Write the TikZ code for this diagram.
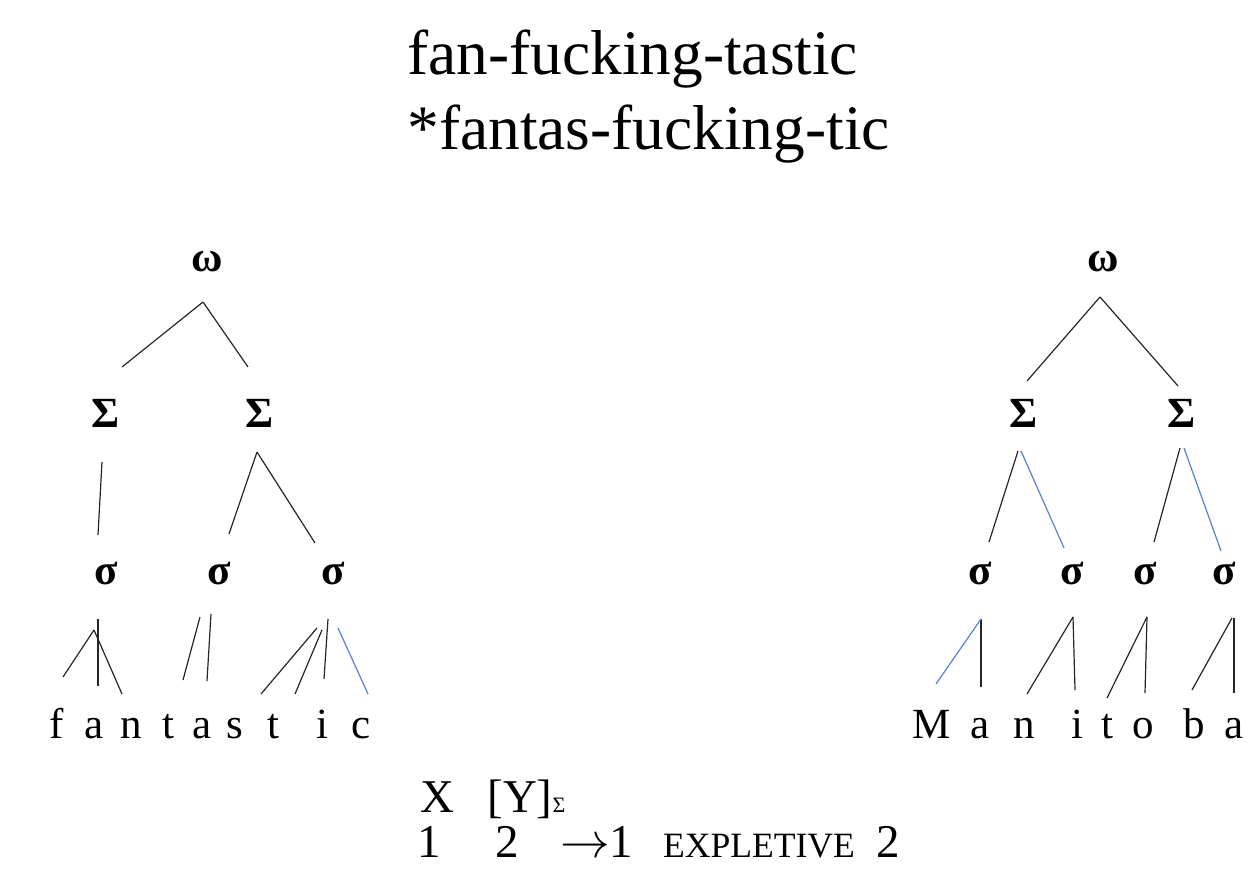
\documentclass[tikz,border=0pt]{standalone}
\usepackage{fontspec}
\setmainfont{Liberation Serif}
\definecolor{linkblue}{RGB}{88,128,214}

\begin{document}
\begin{tikzpicture}[x=0.5pt, y=-0.5pt,
    lbl/.style={anchor=base, inner sep=0pt, font=\fontsize{21.5}{24}\selectfont},
    grk/.style={lbl, font=\fontsize{21.5}{24}\selectfont\bfseries},
    ttl/.style={anchor=base west, inner sep=0pt, font=\fontsize{31.7}{38}\selectfont},
    rule/.style={anchor=base, inner sep=0pt, font=\fontsize{23.5}{28}\selectfont},
    bk/.style={line width=0.6pt, black!85},
    bl/.style={line width=0.6pt, linkblue}]

    \useasboundingbox (0,0) rectangle (1257,870);

    % heading
    \node (t1) [ttl] at (407,75) {fan-fucking-tastic};
    \node (t2) [ttl] at (407,150) {*fantas-fucking-tic};

    % left tree: fantastic
    \node (lw) [grk] at (207,272) {ω};
    \node (lS1) [grk] at (106,428) {Σ};
    \node (lS2) [grk] at (260,428) {Σ};
    \node (ls1) [grk] at (106,585) {σ};
    \node (ls2) [grk] at (219,585) {σ};
    \node (ls3) [grk] at (333,585) {σ};

    \node (lf) [lbl] at (57,738) {f};
    \node (la1) [lbl] at (94,738) {a};
    \node (ln) [lbl] at (131,738) {n};
    \node (lt1) [lbl] at (168,738) {t};
    \node (la2) [lbl] at (202,738) {a};
    \node (lss) [lbl] at (235,738) {s};
    \node (lt2) [lbl] at (273,738) {t};
    \node (li) [lbl] at (322,738) {i};
    \node (lc) [lbl] at (361,738) {c};

    \coordinate (lwA) at (203,302);
    \coordinate (lwL) at (122,367);
    \coordinate (lwR) at (248,367);
    \coordinate (lS1A) at (102,462);
    \coordinate (lS1B) at (98,535);
    \coordinate (lS2A) at (257,452);
    \coordinate (lS2L) at (229,534);
    \coordinate (lS2R) at (315,543);
    \coordinate (ls1T) at (98,619);
    \coordinate (ls1B) at (98,686);
    \coordinate (ls1A) at (94,630);
    \coordinate (ls1L) at (63,677);
    \coordinate (ls1R) at (122,694);
    \coordinate (ls2A) at (200,617);
    \coordinate (ls2B) at (183,680);
    \coordinate (ls2C) at (211,614);
    \coordinate (ls2D) at (207,681);
    \coordinate (ls3A) at (317,628);
    \coordinate (ls3B) at (261,694);
    \coordinate (ls3C) at (322,630);
    \coordinate (ls3D) at (295,694);
    \coordinate (ls3E) at (328,619);
    \coordinate (ls3F) at (324,679);
    \coordinate (ls3G) at (338,628);
    \coordinate (ls3H) at (368,694);

    \path[bk]
    (lwA) edge (lwL)
    (lwA) edge (lwR)
    (lS1A) edge (lS1B)
    (lS2A) edge (lS2L)
    (lS2A) edge (lS2R)
    (ls1T) edge (ls1B)
    (ls1A) edge (ls1L)
    (ls1A) edge (ls1R)
    (ls2A) edge (ls2B)
    (ls2C) edge (ls2D)
    (ls3A) edge (ls3B)
    (ls3C) edge (ls3D)
    (ls3E) edge (ls3F);
    \path[bl] (ls3G) edge (ls3H);

    % right tree: Manitoba
    \node (rw) [grk] at (1103,272) {ω};
    \node (rS1) [grk] at (1024,428) {Σ};
    \node (rS2) [grk] at (1182,428) {Σ};
    \node (rs1) [grk] at (980,585) {σ};
    \node (rs2) [grk] at (1072,585) {σ};
    \node (rs3) [grk] at (1145,585) {σ};
    \node (rs4) [grk] at (1224,585) {σ};

    \node (rM) [lbl] at (932,738) {M};
    \node (ra1) [lbl] at (980,738) {a};
    \node (rn) [lbl] at (1024,738) {n};
    \node (ri) [lbl] at (1077,738) {i};
    \node (rt) [lbl] at (1107,738) {t};
    \node (ro) [lbl] at (1143,738) {o};
    \node (rb) [lbl] at (1194,738) {b};
    \node (ra2) [lbl] at (1234,738) {a};

    \coordinate (rwA) at (1100,297);
    \coordinate (rwL) at (1027,381);
    \coordinate (rwR) at (1178,386);
    \coordinate (rS1A) at (1018,451);
    \coordinate (rS1L) at (989,542);
    \coordinate (rS1B) at (1021,451);
    \coordinate (rS1R) at (1064,548);
    \coordinate (rS2A) at (1180,448);
    \coordinate (rS2L) at (1154,542);
    \coordinate (rS2B) at (1184,448);
    \coordinate (rS2R) at (1221,551);
    \coordinate (rs1A) at (981,619);
    \coordinate (rs1L) at (936,684);
    \coordinate (rs1B) at (981,687);
    \coordinate (rs2A) at (1073,617);
    \coordinate (rs2L) at (1027,694);
    \coordinate (rs2B) at (1075,690);
    \coordinate (rs3A) at (1147,617);
    \coordinate (rs3L) at (1107,698);
    \coordinate (rs3B) at (1145,693);
    \coordinate (rs4A) at (1232,618);
    \coordinate (rs4L) at (1192,690);
    \coordinate (rs4T) at (1234,618);
    \coordinate (rs4B) at (1234,693);

    \path[bk]
    (rwA) edge (rwL)
    (rwA) edge (rwR)
    (rS1A) edge (rS1L)
    (rS2A) edge (rS2L)
    (rs1A) edge (rs1B)
    (rs2A) edge (rs2L)
    (rs2A) edge (rs2B)
    (rs3A) edge (rs3L)
    (rs3A) edge (rs3B)
    (rs4A) edge (rs4L)
    (rs4T) edge (rs4B);
    \path[bl]
    (rS1B) edge (rS1R)
    (rS2B) edge (rS2R)
    (rs1A) edge (rs1L);

    % rule
    \node (rX) [rule] at (437,812) {X};
    \node (rY) [rule, anchor=base west] at (487,812) {[Y]{\fontsize{11}{12}\selectfont Σ}};
    \node (r1) [rule] at (429,857) {1};
    \node (r2) [rule] at (507,857) {2};
    \node (rarr) [rule] at (585,857) {$\rightarrow$};
    \node (r3) [rule] at (621,857) {1};
    \node (rexp) [rule, font=\fontsize{17.8}{20}\selectfont] at (759,857) {EXPLETIVE};
    \node (r4) [rule] at (888,857) {2};

\end{tikzpicture}
\end{document}
